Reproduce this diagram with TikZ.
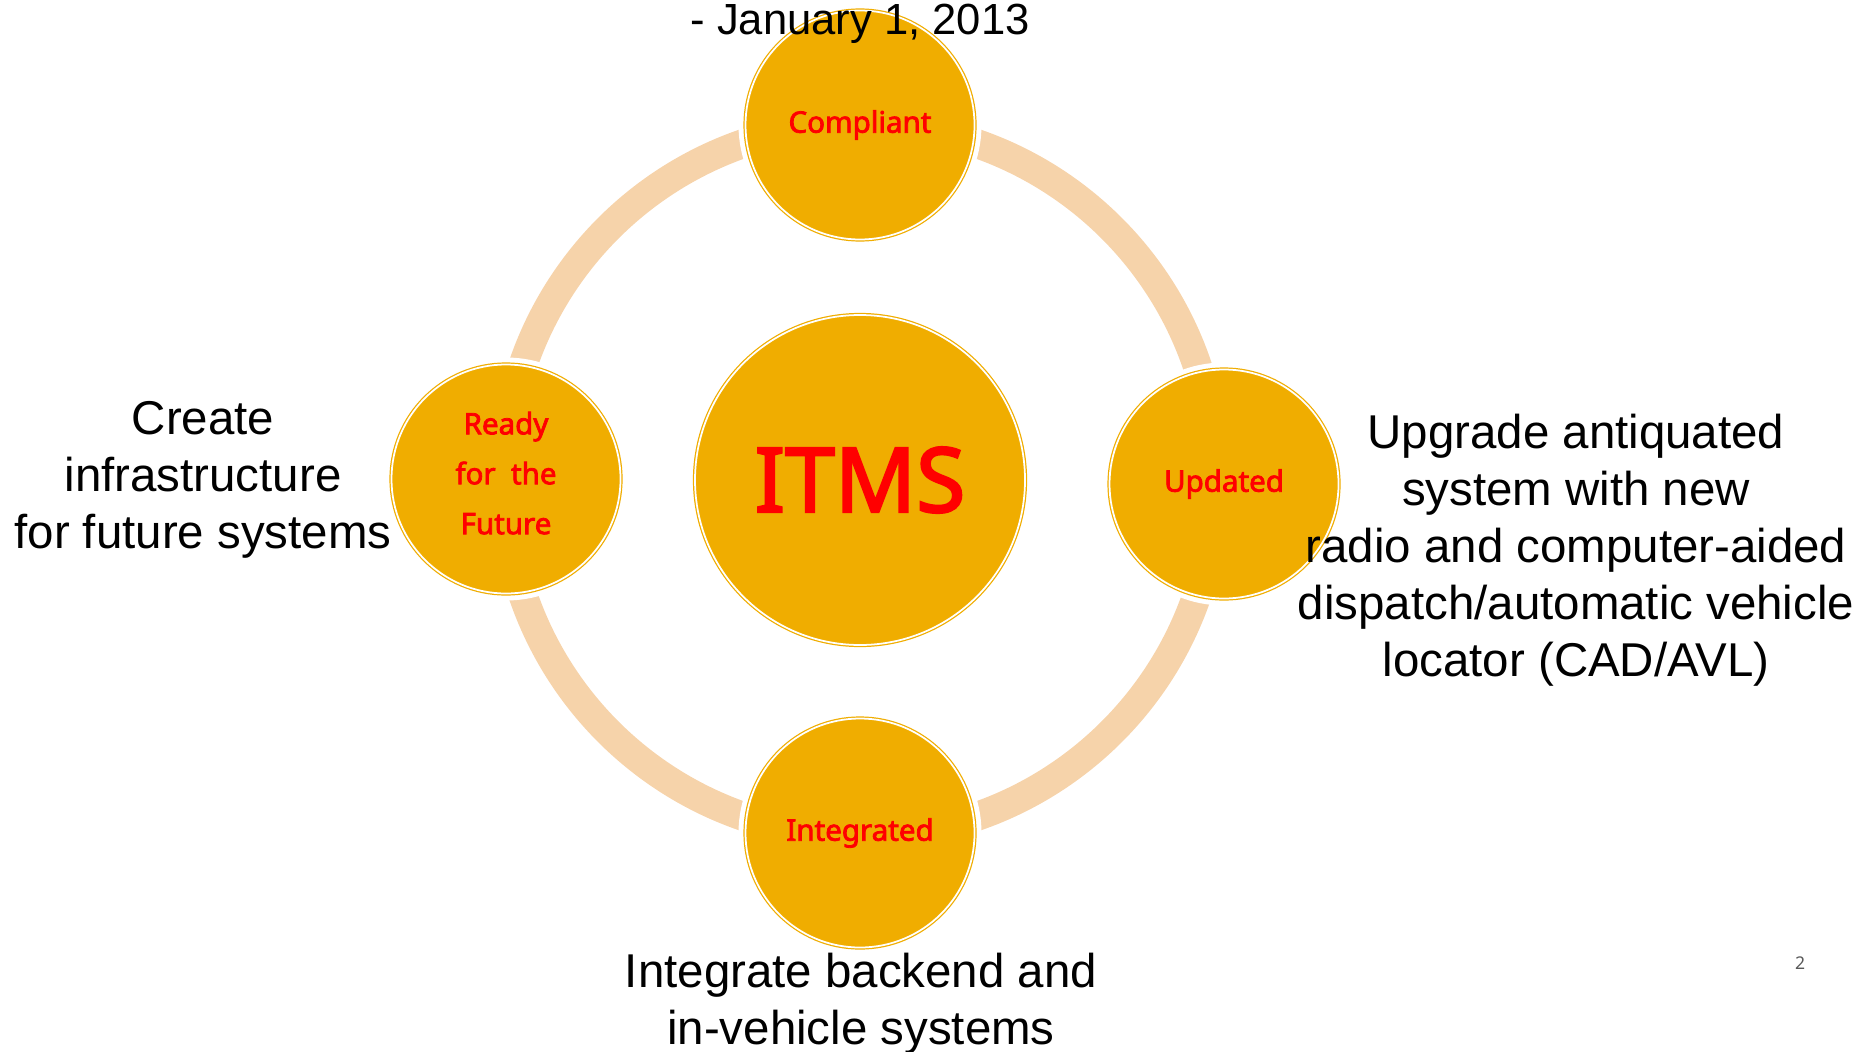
\documentclass[tikz,border=0pt]{standalone}
\usepackage{fontspec}
\setmainfont{Liberation Sans}
\newfontfamily\orbfont{Noto Sans}[FakeBold=2.6]
\newfontfamily\pagefont{Noto Sans}
\usetikzlibrary{positioning}
\definecolor{Gold}{HTML}{F0AD00}
\definecolor{Peach}{HTML}{F6D3AA}
\definecolor{Label}{HTML}{FF0000}
\definecolor{Ink}{HTML}{000000}
\definecolor{PageGray}{HTML}{595959}
\tikzset{
    orb/.style={circle, fill=Gold, draw=Gold, line width=0.35pt, double=white, double distance=0.5pt, inner sep=0pt, align=center, text=Label},
    smallorb/.style={orb, minimum size=2.29cm, font=\orbfont\fontsize{8.4}{14.2}\selectfont, preaction={draw=white, line width=0.14cm}},
    bigorb/.style={orb, minimum size=3.30cm, font=\orbfont\fontsize{25.5}{28}\selectfont},
    ringband/.style={draw=Peach, line width=0.29cm},
    note/.style={align=center, text=Ink, font=\fontsize{13.5}{16.2}\selectfont},
}
\begin{document}
\begin{tikzpicture}
    \useasboundingbox (0,0) rectangle (18.60,-10.51);
    \clip (0,0) rectangle (18.60,-10.51);

    % centre
    \node[bigorb] (itms) at (8.60,-4.80) {ITMS};

    % ring behind the four stages
    \draw[ringband] (itms.center) circle (3.56);

    % the four stages
    \node[smallorb] (compliant) at (8.60,-1.25) {Compliant};
    \node[smallorb] (updated) at (12.24,-4.84) {Updated};
    \node[smallorb] (integrated) at (8.60,-8.33) {Integrated};
    \node[smallorb, text depth=0.12cm] (ready) at (5.06,-4.79) {Ready\\for~~the\\Future};

    % descriptions
    \node[note, anchor=base, font=\fontsize{12.4}{15}\selectfont] (dateNote) at (8.60,-0.35) {- January 1, 2013};
    \node[note] (readyNote) at (2.03,-4.80) {Create\\infrastructure\\for future systems};
    \node[note] (updatedNote) at (15.76,-5.50) {Upgrade antiquated\\system with new\\radio and computer-aided\\dispatch/automatic vehicle\\locator (CAD/AVL)};
    \node[note] (integratedNote) at (8.61,-10.04) {Integrate backend and\\in-vehicle systems};

    % page number
    \node[text=PageGray, font=\pagefont\fontsize{5}{6}\selectfont] (pageNum) at (18.00,-9.63) {2};
\end{tikzpicture}
\end{document}
